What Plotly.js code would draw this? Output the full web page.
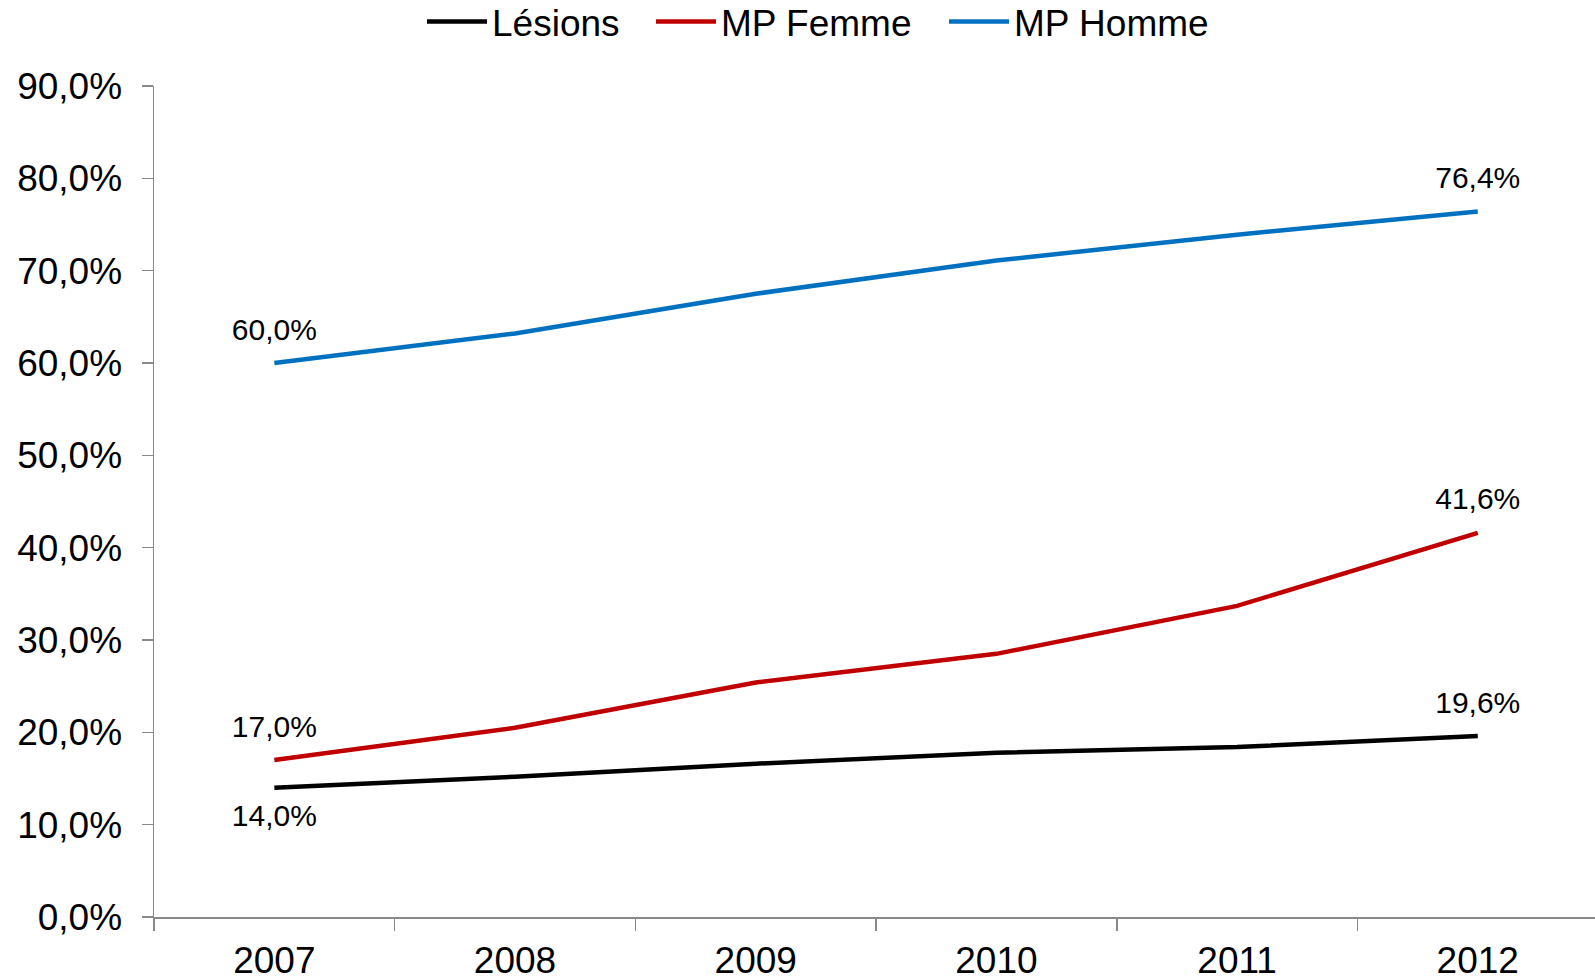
<!DOCTYPE html>
<html>
<head>
<meta charset="utf-8">
<script src="https://cdn.plot.ly/plotly-3.0.1.min.js"></script>
<style>
  html, body { margin: 0; padding: 0; background: #ffffff; }
  #chart { width: 1595px; height: 979px; }
</style>
</head>
<body>
<div id="chart"></div>
<script>
// ---- data ----
const years = ['2007', '2008', '2009', '2010', '2011', '2012'];
const lesions = [14.0, 15.2, 16.6, 17.8, 18.4, 19.6];
const mpFemme = [17.0, 20.5, 25.4, 28.5, 33.7, 41.6];
const mpHomme = [60.0, 63.2, 67.5, 71.1, 73.9, 76.4];
const seriesNames = ['Lésions', 'MP Femme', 'MP Homme'];
const yTicks = [0, 10, 20, 30, 40, 50, 60, 70, 80, 90];
const yTickText = yTicks.map(v => v.toFixed(1).replace('.', ',') + '%');

const FONT = '"Liberation Sans", Arial, sans-serif';
const endLabels = ['%{y:.1f}%', '', '', '', '', '%{y:.1f}%'];

function mk(name, y, color, positions, legendWidth) {
  return {
    type: 'scatter',
    mode: 'lines+markers+text',
    name: name,
    x: years,
    y: y,
    line: { color: color, width: 4.5 },
    marker: { size: 24, color: 'rgba(0,0,0,0)', line: { width: 0 } },
    texttemplate: endLabels,
    textposition: positions,
    textfont: { family: FONT, size: 30, color: '#000000' },
    cliponaxis: false,
    legendwidth: legendWidth,
    hoverinfo: 'skip'
  };
}

const posTop = Array(6).fill('top center');
const posLes = ['bottom center', 'top center', 'top center', 'top center', 'top center', 'top center'];

const data = [
  mk(seriesNames[0], lesions, '#000000', posLes, 154),
  mk(seriesNames[1], mpFemme, '#C00000', posTop, 218),
  mk(seriesNames[2], mpHomme, '#0070C0', posTop, 200)
];

const layout = {
  width: 1595,
  height: 979,
  margin: { l: 154, r: 0, t: 86, b: 62 },
  paper_bgcolor: '#ffffff',
  plot_bgcolor: '#ffffff',
  separators: ', ',
  font: { family: FONT, size: 37, color: '#000000' },
  showlegend: true,
  legend: {
    orientation: 'h',
    xref: 'container', yref: 'container',
    x: 422 / 1595, xanchor: 'left',
    y: 1 - 22 / 979, yanchor: 'middle',
    font: { family: FONT, size: 37, color: '#000000' },
    itemwidth: 60,
    bgcolor: 'rgba(0,0,0,0)'
  },
  xaxis: {
    type: 'category',
    range: [-0.5, 5.487],
    showline: true,
    linecolor: '#898989',
    linewidth: 1.5,
    showgrid: false,
    zeroline: false,
    ticks: 'outside',
    tickson: 'boundaries',
    ticklen: 12,
    tickcolor: '#898989',
    tickwidth: 1.5,
    ticklabelstandoff: 10,
    tickfont: { family: FONT, size: 37, color: '#000000' }
  },
  yaxis: {
    range: [0, 90],
    showline: true,
    linecolor: '#898989',
    linewidth: 1.5,
    showgrid: false,
    zeroline: false,
    ticks: 'outside',
    ticklen: 11,
    tickcolor: '#898989',
    tickwidth: 1.5,
    tickmode: 'array',
    tickvals: yTicks,
    ticktext: yTickText,
    ticklabelstandoff: 12,
    tickfont: { family: FONT, size: 37, color: '#000000' }
  }
};

Plotly.newPlot('chart', data, layout, { displayModeBar: false, staticPlot: true });
</script>
</body>
</html>
